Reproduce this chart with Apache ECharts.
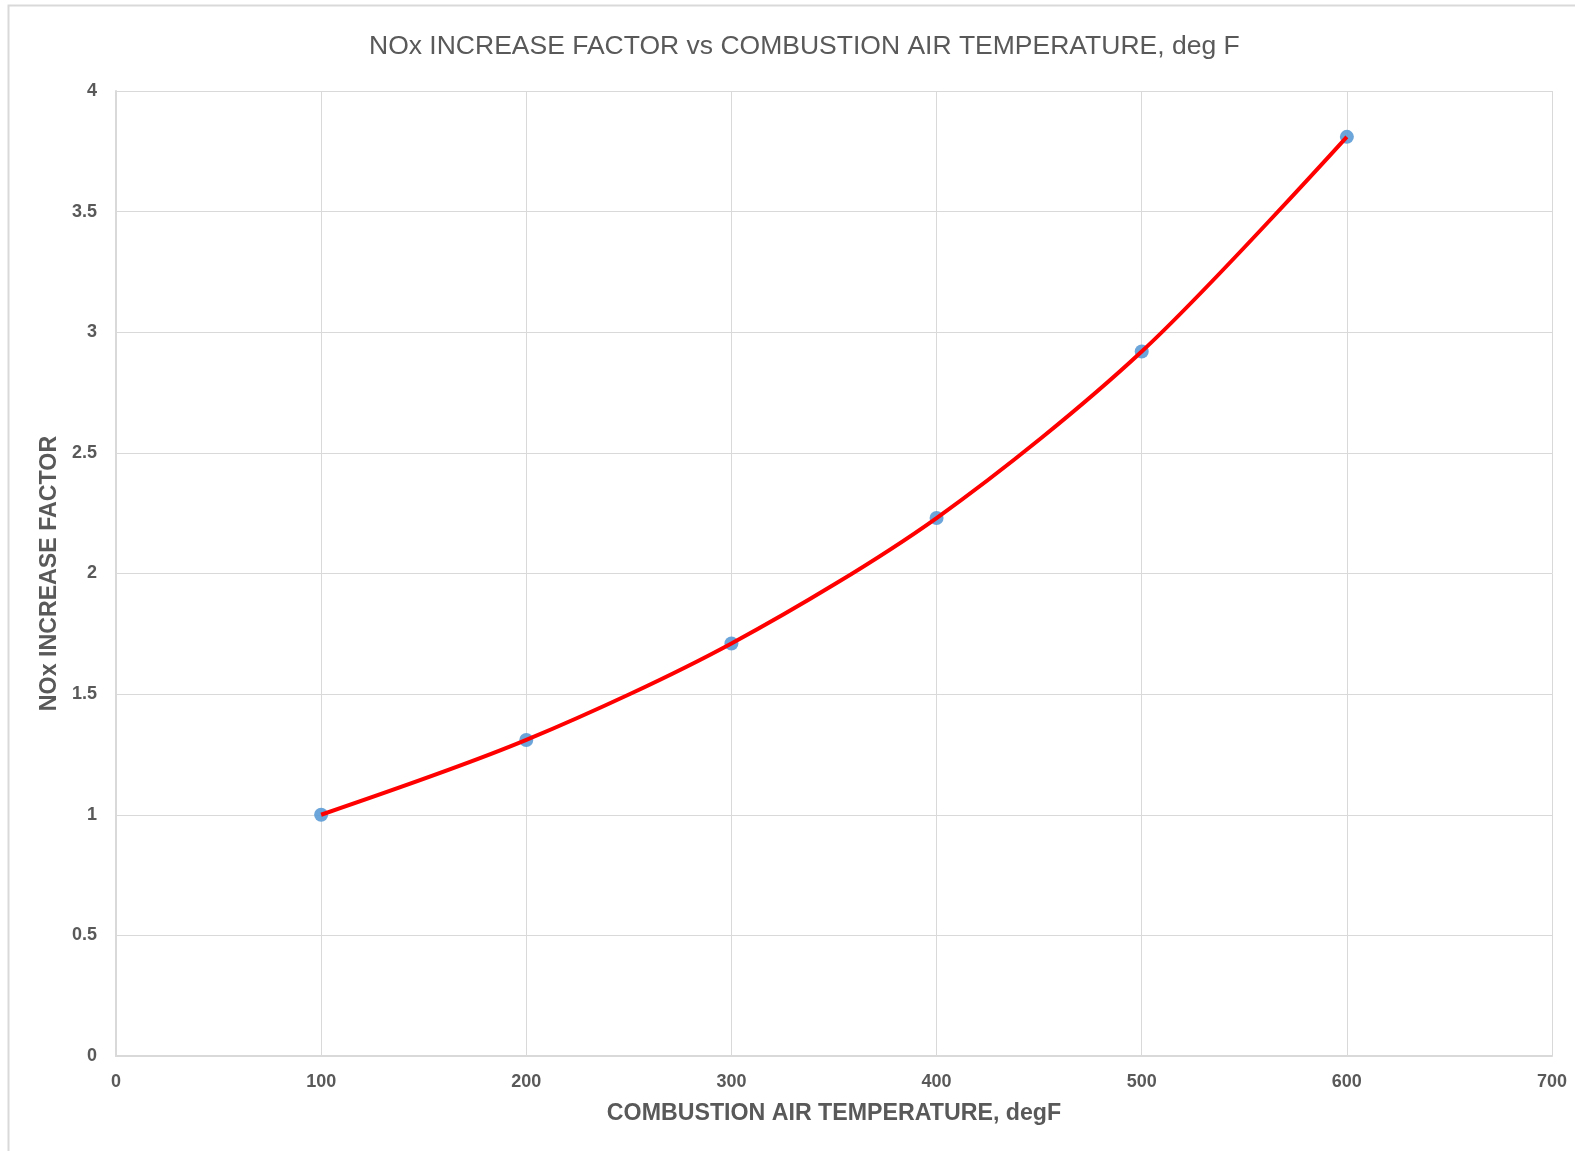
<!DOCTYPE html>
<html>
<head>
<meta charset="utf-8">
<script src="https://cdn.jsdelivr.net/npm/echarts@6/dist/echarts.min.js"></script>
<style>
html,body{margin:0;padding:0;background:#fff;}
#chart{width:1575px;height:1151px;}
</style>
</head>
<body>
<div id="chart"></div>
<script>
var temperatures = [100, 200, 300, 400, 500, 600];
var factors = [1.00, 1.31, 1.71, 2.23, 2.92, 3.81];
var titleText = 'NOx INCREASE FACTOR vs COMBUSTION AIR TEMPERATURE, deg F';
var xAxisName = 'COMBUSTION AIR TEMPERATURE, degF';
var yAxisName = 'NOx INCREASE FACTOR';

var points = temperatures.map(function (t, i) { return [t, factors[i]]; });

var chart = echarts.init(document.getElementById('chart'), null, {renderer: 'canvas'});
var labelFont = '"Liberation Sans", Arial, sans-serif';
chart.setOption({
  backgroundColor: '#ffffff',
  animation: false,
  graphic: [{
    type: 'rect', left: 6, top: 3,
    shape: {width: 1600, height: 1200},
    style: {fill: 'none', stroke: '#d9d9d9', lineWidth: 2},
    silent: true, z: -1
  }],
  title: {
    text: titleText,
    left: 364,
    top: 28,
    textStyle: {
      fontFamily: labelFont,
      fontWeight: 'normal',
      fontSize: 26.5,
      color: '#595959'
    }
  },
  grid: {left: 116, right: 23, top: 91, bottom: 95, containLabel: false},
  xAxis: {
    type: 'value',
    min: 0, max: 700, interval: 100,
    name: xAxisName,
    nameLocation: 'middle',
    nameGap: 46,
    nameTextStyle: {fontFamily: labelFont, fontWeight: 'bold', fontSize: 23.2, color: '#595959'},
    axisLine: {show: true, lineStyle: {color: '#d9d9d9', width: 2}},
    axisTick: {show: false},
    axisLabel: {margin: 17, fontFamily: labelFont, fontWeight: 'bold', fontSize: 18, color: '#595959'},
    splitLine: {show: true, lineStyle: {color: '#d9d9d9', width: 1}}
  },
  yAxis: {
    type: 'value',
    min: 0, max: 4, interval: 0.5,
    name: yAxisName,
    nameLocation: 'middle',
    nameGap: 55,
    nameTextStyle: {fontFamily: labelFont, fontWeight: 'bold', fontSize: 23.2, color: '#595959'},
    axisLine: {show: true, lineStyle: {color: '#d9d9d9', width: 2}},
    axisTick: {show: false},
    axisLabel: {margin: 19, fontFamily: labelFont, fontWeight: 'bold', fontSize: 18, color: '#595959'},
    splitLine: {show: true, lineStyle: {color: '#d9d9d9', width: 1}}
  },
  series: [
    {
      type: 'scatter',
      data: points,
      symbol: 'circle',
      symbolSize: 14,
      itemStyle: {color: '#5b9bd5', opacity: 0.9},
      z: 2
    },
    {
      type: 'line',
      data: points,
      smooth: 0.3,
      showSymbol: false,
      lineStyle: {color: '#ff0000', width: 4},
      z: 3
    }
  ]
});
</script>
</body>
</html>
